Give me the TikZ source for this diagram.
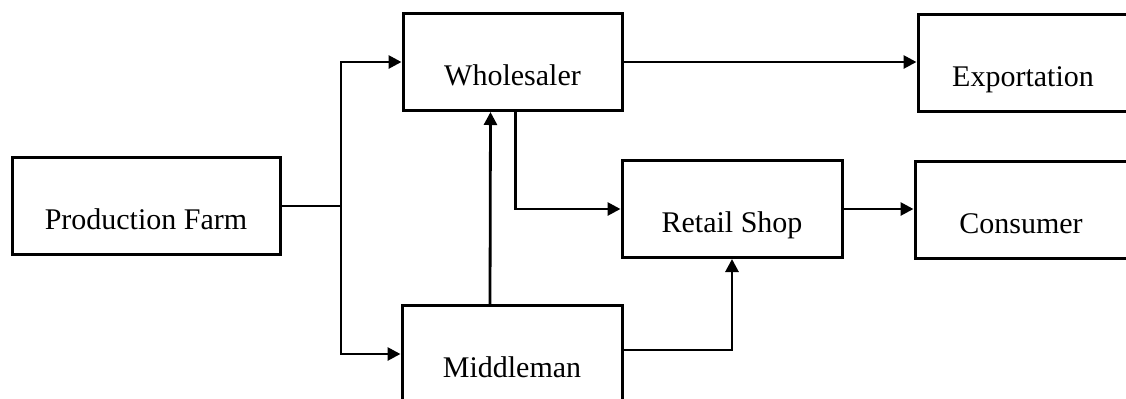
\documentclass[tikz,border=0pt]{standalone}
\usepackage{fontspec}
\setmainfont{Liberation Serif}
\usetikzlibrary{arrows.meta, positioning}

\begin{document}
\begin{tikzpicture}[x=0.5pt, y=-0.5pt,
    stage/.style={draw=black, line width=1.5pt, fill=white, font=\fontsize{15}{18}\selectfont,
        text height=26pt, text depth=3pt, inner sep=0pt, minimum height=48.5pt},
    flowarrow/.style={-{Triangle[length=6.5pt, width=6.5pt]}, line width=1.4pt, color=black},
    flowline/.style={line width=1.4pt, color=black}
]
        \useasboundingbox (0,0) rectangle (1126,398);

        \node[stage, minimum width=134pt, name=farm] at(146,206) {Production Farm};
        \node[stage, minimum width=109.5pt, name=whole] at(512.5,62) {Wholesaler};
        \node[stage, minimum width=110pt, name=middle] at(512,354) {Middleman};
        \node[stage, minimum width=110pt, name=retail] at(732,209) {Retail Shop};
        \node[stage, minimum width=105pt, name=export] at(1023,63) {Exportation};
        \node[stage, minimum width=106pt, name=consumer] at(1021,210) {Consumer};

        \coordinate (split) at(341,206);

        \draw[flowline] (farm.east) -- (split);
        \draw[flowarrow] (split) |- (whole.west);
        \draw[flowarrow] (split) |- (middle.west);

        \draw[flowarrow] (whole.east) -- (whole.east -| export.west);
        \draw[flowarrow] ([xshift=1.5pt]whole.south) |- (retail.west);
        \draw[flowarrow] ([xshift=-11pt]middle.north) -- ([xshift=-11pt]whole.south);

        \draw[flowarrow] ([yshift=2pt]middle.east) -| (retail.south);
        \draw[flowarrow] (retail.east) -- (retail.east -| consumer.west);
    \end{tikzpicture}
\end{document}
